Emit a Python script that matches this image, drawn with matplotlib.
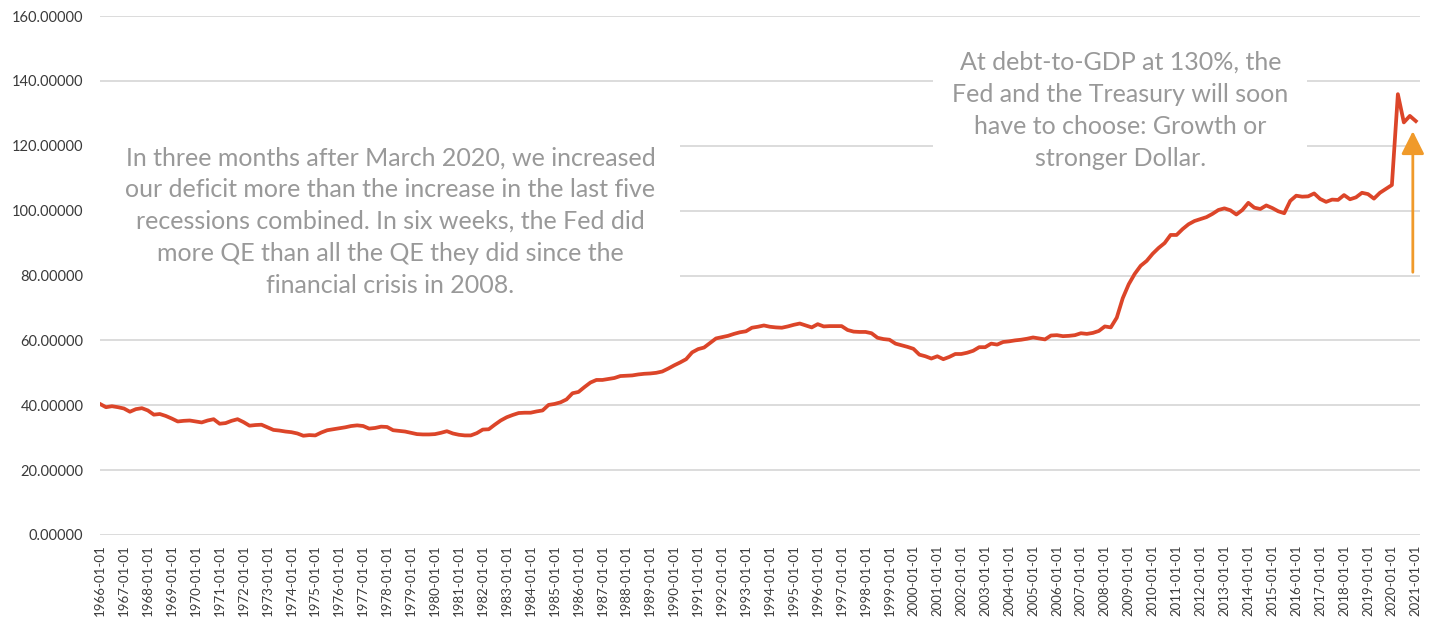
import matplotlib
matplotlib.use("Agg")
import matplotlib.pyplot as plt

plt.rcParams["font.family"] = ["Lato", "DejaVu Sans"]

# quarterly debt-to-GDP readings, 1966Q1 .. 2021Q1
debt_by_year = {
    1966: [40.4, 39.4, 39.7, 39.4],
    1967: [39.0, 38.0, 38.8, 39.1],
    1968: [38.4, 37.1, 37.3, 36.7],
    1969: [35.9, 35.0, 35.2, 35.3],
    1970: [35.0, 34.7, 35.3, 35.7],
    1971: [34.3, 34.5, 35.2, 35.7],
    1972: [34.8, 33.7, 33.9, 34.0],
    1973: [33.2, 32.4, 32.2, 31.9],
    1974: [31.7, 31.3, 30.6, 30.8],
    1975: [30.7, 31.6, 32.3, 32.6],
    1976: [32.9, 33.2, 33.6, 33.8],
    1977: [33.6, 32.8, 33.0, 33.4],
    1978: [33.3, 32.3, 32.1, 31.9],
    1979: [31.5, 31.1, 31.0, 31.0],
    1980: [31.1, 31.5, 32.0, 31.3],
    1981: [30.9, 30.7, 30.7, 31.4],
    1982: [32.5, 32.6, 34.0, 35.3],
    1983: [36.3, 37.0, 37.6, 37.7],
    1984: [37.7, 38.1, 38.4, 40.1],
    1985: [40.4, 40.9, 41.8, 43.7],
    1986: [44.1, 45.6, 47.0, 47.8],
    1987: [47.8, 48.1, 48.4, 49.0],
    1988: [49.1, 49.2, 49.5, 49.7],
    1989: [49.8, 50.0, 50.4, 51.3],
    1990: [52.3, 53.2, 54.2, 56.3],
    1991: [57.3, 57.8, 59.2, 60.6],
    1992: [61.0, 61.4, 62.0, 62.5],
    1993: [62.8, 63.9, 64.2, 64.6],
    1994: [64.2, 64.0, 63.9, 64.3],
    1995: [64.8, 65.2, 64.6, 64.0],
    1996: [65.0, 64.3, 64.4, 64.4],
    1997: [64.4, 63.2, 62.7, 62.6],
    1998: [62.6, 62.2, 60.8, 60.4],
    1999: [60.2, 59.0, 58.5, 58.0],
    2000: [57.4, 55.6, 55.1, 54.4],
    2001: [55.1, 54.2, 54.9, 55.8],
    2002: [55.8, 56.2, 56.8, 57.9],
    2003: [57.9, 59.0, 58.7, 59.5],
    2004: [59.7, 60.0, 60.2, 60.5],
    2005: [60.9, 60.6, 60.3, 61.5],
    2006: [61.6, 61.3, 61.4, 61.6],
    2007: [62.2, 62.0, 62.3, 62.9],
    2008: [64.3, 64.0, 67.0, 73.0],
    2009: [77.3, 80.5, 83.0, 84.5],
    2010: [86.7, 88.5, 90.0, 92.5],
    2011: [92.5, 94.3, 95.8, 96.8],
    2012: [97.4, 98.0, 99.0, 100.2],
    2013: [100.7, 100.1, 98.8, 100.2],
    2014: [102.4, 100.9, 100.5, 101.6],
    2015: [100.8, 99.8, 99.2, 103.0],
    2016: [104.6, 104.3, 104.4, 105.3],
    2017: [103.6, 102.7, 103.4, 103.3],
    2018: [104.8, 103.5, 104.1, 105.5],
    2019: [105.1, 103.7, 105.5, 106.7],
    2020: [107.9, 135.9, 127.2, 129.2],
    2021: [127.6],
}

quarters = []
values = []
for year, vals in debt_by_year.items():
    for q, v in enumerate(vals):
        quarters.append(f"{year}-{3 * q + 1:02d}-01")
        values.append(v)

y_ticks = [0, 20, 40, 60, 80, 100, 120, 140, 160]

left_note = ("In three months after March 2020, we increased\n"
             "our deficit more than the increase in the last five\n"
             "recessions combined. In six weeks, the Fed did\n"
             "more QE than all the QE they did since the\n"
             "financial crisis in 2008.")
right_note = ("At debt-to-GDP at 130%, the\n"
              "Fed and the Treasury will soon\n"
              "have to choose: Growth or\n"
              "stronger Dollar.")

arrow_x = len(values) - 1.5
arrow_from, arrow_to = 81, 124.5

fig = plt.figure(figsize=(14.37, 6.2), dpi=100)
ax = fig.add_axes([100 / 1437, 85 / 620, 1320 / 1437, 519 / 620])

x = list(range(len(values)))
ax.plot(x, values, color="#dc4529", lw=2.7, solid_joinstyle="round", zorder=2)

ax.set_ylim(0, 160)
ax.set_xlim(0, 220.7)
ax.set_yticks(y_ticks)
ax.set_yticklabels([f"{t:.5f}" for t in y_ticks])
ax.set_xticks(x[::4])
ax.set_xticklabels(quarters[::4], rotation=90)
ax.tick_params(axis="y", length=0, pad=12, labelsize=10.5, labelcolor="#3a3a3a")
ax.tick_params(axis="x", length=0, pad=7, labelsize=9.5, labelcolor="#3a3a3a")
ax.grid(axis="y", color="#d9d9d9", lw=1.3)
ax.grid(axis="x", visible=False)
ax.set_axisbelow(True)
for s in ax.spines.values():
    s.set_visible(False)

note_style = dict(transform=ax.transAxes, ha="center", va="center", fontsize=18,
                  color="#999999", linespacing=1.47, zorder=3)
ax.text(0.22, 0.604, left_note,
        bbox=dict(boxstyle="square,pad=1.0", facecolor="white", edgecolor="none"),
        **note_style)
ax.text(0.773, 0.818, right_note,
        bbox=dict(boxstyle="square,pad=0.75", facecolor="white", edgecolor="none"),
        **note_style)

ax.annotate("", xy=(arrow_x, arrow_to), xytext=(arrow_x, arrow_from),
            arrowprops=dict(arrowstyle="-|>,head_width=0.35,head_length=0.7",
                            color="#f09a2a", lw=2, shrinkA=0, shrinkB=0,
                            mutation_scale=20), zorder=4)

fig.savefig("out.png", dpi=100)
